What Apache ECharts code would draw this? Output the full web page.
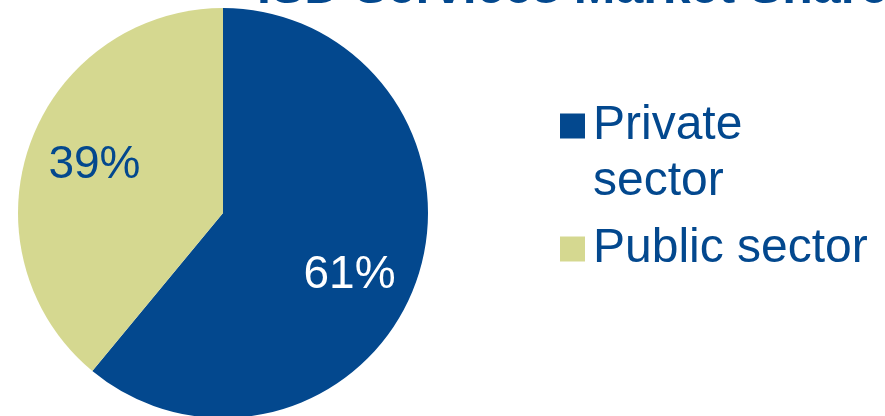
<!DOCTYPE html>
<html>
<head>
<meta charset="utf-8">
<script src="https://cdn.jsdelivr.net/npm/echarts@6/dist/echarts.min.js"></script>
<style>
html,body{margin:0;padding:0;background:#fff;}
#chart{width:885px;height:416px;}
</style>
</head>
<body>
<div id="chart"></div>
<script>
const titleText = 'ISD Services Market Share';
const categories = ['Private sector', 'Public sector'];
const values = [61, 39];
const sliceColors = ['#03488E', '#D5D890'];
const labelColors = ['#FFFFFF', '#03488E'];

const FONT = 'Liberation Sans, Arial, sans-serif';
const chart = echarts.init(document.getElementById('chart'), null, {renderer: 'canvas'});

const pieData = categories.map((c, i) => ({
  name: c,
  value: values[i],
  itemStyle: {color: sliceColors[i]}
}));
// label-only ring (transparent) so labels sit further out like the original
const labelData = categories.map((c, i) => ({
  name: c,
  value: values[i],
  itemStyle: {color: 'rgba(0,0,0,0)'},
  label: {color: labelColors[i]}
}));
const labelNudge = [[-8, 14], [6, 1]];

// legend icons: square at top of a taller transparent box for the two-line entry
const iconTall = 'path://M0,0L0,0M28,112L28,112M0,15.5L25,15.5L25,40.5L0,40.5Z';
const iconShort = 'path://M0,0L0,0M28,25L28,25M0,0L25,0L25,25L0,25Z';

const legendText = {fontFamily: FONT, fontSize: 48, lineHeight: 56, color: '#03488E', width: 284, overflow: 'break'};

chart.setOption({
  animation: false,
  backgroundColor: '#ffffff',
  title: {
    text: titleText,
    left: 257,
    top: -36,
    padding: 0,
    textStyle: {fontFamily: FONT, fontWeight: 'bold', fontSize: 50, lineHeight: 50, color: '#03488E'}
  },
  legend: [
    {
      orient: 'vertical',
      left: 560,
      top: 98,
      padding: 0,
      itemWidth: 28,
      itemHeight: 112,
      selectedMode: false,
      data: [{name: categories[0], icon: iconTall}],
      textStyle: legendText
    },
    {
      orient: 'vertical',
      left: 560,
      top: 221,
      padding: 0,
      itemWidth: 28,
      itemHeight: 25,
      selectedMode: false,
      data: [{name: categories[1], icon: iconShort}],
      textStyle: legendText
    }
  ],
  series: [
    {
      type: 'pie',
      center: [223, 213],
      radius: 205,
      startAngle: 90,
      clockwise: true,
      silent: true,
      label: {show: false},
      labelLine: {show: false},
      data: pieData
    },
    {
      type: 'pie',
      center: [223, 213],
      radius: [75, 205],
      startAngle: 90,
      clockwise: true,
      silent: true,
      label: {
        show: true,
        position: 'inside',
        formatter: '{c}%',
        fontFamily: FONT,
        fontSize: 46
      },
      labelLayout: function (params) {
        const n = labelNudge[params.dataIndex] || [0, 0];
        return {dx: n[0], dy: n[1]};
      },
      labelLine: {show: false},
      data: labelData
    }
  ]
});
</script>
</body>
</html>
